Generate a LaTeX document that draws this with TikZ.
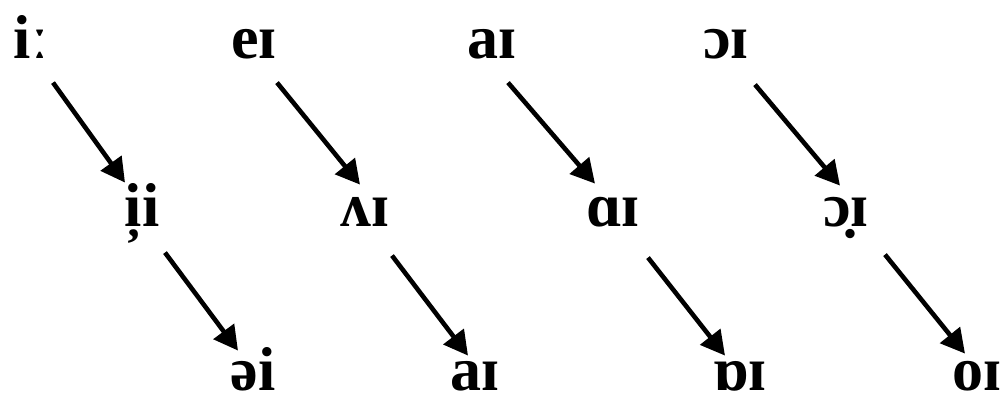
\documentclass[tikz,border=0pt]{standalone}
\usepackage{fontspec}
\setmainfont{Liberation Serif}
\usetikzlibrary{arrows.meta}
\begin{document}
\begin{tikzpicture}[x=1pt,y=-1pt,
  ph/.style={anchor=base,inner sep=0pt,outer sep=0pt,font=\fontsize{62}{70}\selectfont\bfseries,text height=0.48em,text depth=0pt},
  arr/.style={line width=4.6pt,-{Triangle[length=24pt,width=25pt]}}]
\useasboundingbox (0,0) rectangle (1006,403);
\node[ph] (a1) at (31,59) {iː};
\node[ph] (b1) at (254,59) {eɪ};
\node[ph] (c1) at (492,59) {aɪ};
\node[ph] (d1) at (726,59) {ɔɪ};
\node[ph] (a2) at (142,227) {i̦i};
\node[ph] (b2) at (365,227) {ʌɪ};
\node[ph] (c2) at (613,227) {ɑɪ};
\node[ph] (d2) at (846,227) {ɔ̣ɪ};
\node[ph] (a3) at (253,390) {əi};
\node[ph] (b3) at (475,390) {aɪ};
\node[ph] (c3) at (740,390) {ɒɪ};
\node[ph] (d3) at (977,390) {oɪ};
\foreach \u/\v/\sx/\sy/\ex/\ey in {
  a1/a2/22/26/-17/-42, b1/b2/23/26/-5/-40, c1/c2/16/26/-18/-41, d1/d2/29/28/-6/-39,
  a2/a3/23/28/-15/-37, b2/b3/27/31/-7/-32, c2/c3/35/33/-15/-32, d2/d3/39/30/-12/-34}
  \draw[arr] ([shift={(\sx,\sy)}]\u.center) -- ([shift={(\ex,\ey)}]\v.center);
\end{tikzpicture}
\end{document}
